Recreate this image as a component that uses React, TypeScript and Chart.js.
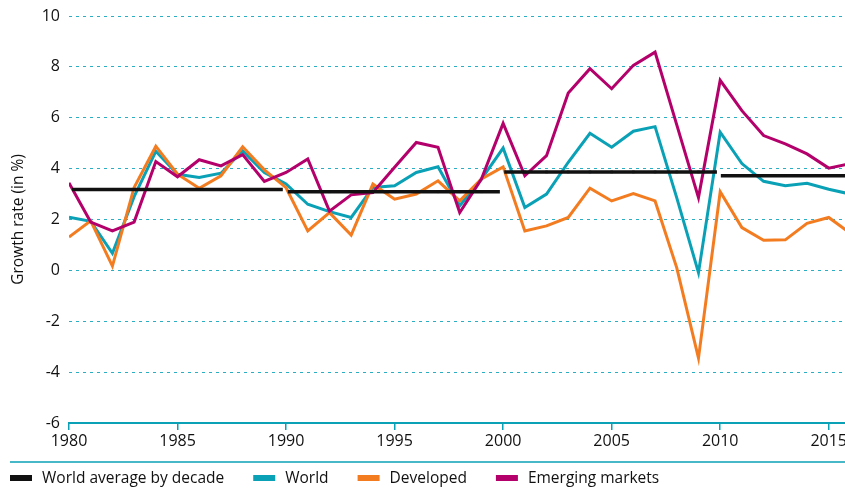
import React, { useEffect, useRef } from "react";
import { Chart, registerables } from "chart.js";

Chart.register(...registerables);

const years = [
  1980, 1981, 1982, 1983, 1984, 1985, 1986, 1987, 1988, 1989,
  1990, 1991, 1992, 1993, 1994, 1995, 1996, 1997, 1998, 1999,
  2000, 2001, 2002, 2003, 2004, 2005, 2006, 2007, 2008, 2009,
  2010, 2011, 2012, 2013, 2014, 2015, 2016,
];

const world = [
  2.09, 1.93, 0.67, 2.9, 4.68, 3.78, 3.65, 3.82, 4.7, 3.85,
  3.4, 2.6, 2.31, 2.08, 3.26, 3.33, 3.85, 4.07, 2.54, 3.59,
  4.81, 2.47, 3.0, 4.25, 5.39, 4.84, 5.47, 5.65, 2.85, -0.09,
  5.43, 4.2, 3.5, 3.33, 3.42, 3.19, 3.0,
];

const developed = [
  1.31, 1.95, 0.17, 3.26, 4.88, 3.78, 3.23, 3.72, 4.86, 3.95,
  3.25, 1.55, 2.27, 1.39, 3.39, 2.8, 3.0, 3.52, 2.73, 3.59,
  4.07, 1.55, 1.75, 2.08, 3.23, 2.73, 3.02, 2.73, 0.1, -3.45,
  3.09, 1.68, 1.18, 1.2, 1.85, 2.08, 1.45,
];

const emerging = [
  3.44, 1.9, 1.55, 1.9, 4.28, 3.68, 4.35, 4.11, 4.55, 3.5,
  3.85, 4.38, 2.33, 2.97, 3.06, 4.05, 5.03, 4.84, 2.27, 3.59,
  5.78, 3.72, 4.51, 6.97, 7.93, 7.14, 8.06, 8.58, 5.72, 2.86,
  7.47, 6.28, 5.3, 4.97, 4.58, 4.02, 4.2,
];

const decadeStarts = [1980.14, 1990.08, 2000.05, 2010.03];
const decadeEnds = [1989.85, 1999.85, 2009.85, 2016];
const decadeAverages = [3.18, 3.09, 3.87, 3.72];

const xTickLabels = [1980, 1985, 1990, 1995, 2000, 2005, 2010, 2015];

const TEAL = "#0AA1B6";
const GRID = "#2AAEC3";
const ORANGE = "#F47C20";
const MAGENTA = "#B3006B";
const BLACK = "#111111";
const TEXT = "#111111";
const FONT = "'Open Sans', 'Noto Sans', sans-serif";

function decadePoints() {
  const pts: { x: number; y: number | null }[] = [];
  decadeStarts.forEach((s, i) => {
    const e = decadeEnds[i];
    pts.push({ x: s, y: decadeAverages[i] });
    years.forEach((yr) => {
      if (yr > s && yr < e) pts.push({ x: yr, y: decadeAverages[i] });
    });
    pts.push({ x: e, y: decadeAverages[i] });
    pts.push({ x: e + 0.01, y: null });
  });
  return pts;
}

const legendPlugin = {
  id: "customLegend",
  afterDraw(chart: any) {
    const ctx = chart.ctx as CanvasRenderingContext2D;
    ctx.save();
    ctx.strokeStyle = TEAL;
    ctx.lineWidth = 1.5;
    ctx.beginPath();
    ctx.moveTo(10, 462);
    ctx.lineTo(chart.width, 462);
    ctx.stroke();
    ctx.font = `15.5px ${FONT}`;
    ctx.textBaseline = "middle";
    let x = 10;
    const cy = 478;
    for (const ds of chart.data.datasets) {
      ctx.fillStyle = ds.borderColor;
      ctx.fillRect(x, cy - 3, 22, 6);
      ctx.fillStyle = TEXT;
      ctx.fillText(ds.label, x + 32, cy + 0.5);
      x += 32 + ctx.measureText(ds.label).width + 29;
    }
    ctx.restore();
  },
};

export default function App() {
  const ref = useRef<HTMLCanvasElement>(null);
  useEffect(() => {
    Chart.defaults.font.family = FONT;
    const toPts = (arr: number[]) => years.map((yr, i) => ({ x: yr, y: arr[i] }));
    const chart = new Chart(ref.current!, {
      type: "line",
      data: {
        datasets: [
          {
            label: "World average by decade",
            data: decadePoints(),
            borderColor: BLACK,
            backgroundColor: BLACK,
            borderWidth: 3.5,
            pointStyle: "rect",
            pointRadius: (c: any) => (Number.isInteger(c.raw?.x) ? 1.8 : 0),
            pointBorderWidth: 0,
            spanGaps: false,
            order: 0,
          },
          {
            label: "World",
            data: toPts(world),
            borderColor: TEAL,
            backgroundColor: TEAL,
            borderWidth: 3,
            pointRadius: 0,
            order: 3,
          },
          {
            label: "Developed",
            data: toPts(developed),
            borderColor: ORANGE,
            backgroundColor: ORANGE,
            borderWidth: 3,
            pointRadius: 0,
            order: 2,
          },
          {
            label: "Emerging markets",
            data: toPts(emerging),
            borderColor: MAGENTA,
            backgroundColor: MAGENTA,
            borderWidth: 3,
            pointRadius: 0,
            order: 1,
          },
        ],
      },
      options: {
        animation: false,
        responsive: false,
        devicePixelRatio: 1,
        layout: { padding: { top: 16, bottom: 38, left: 0, right: 0 } },
        plugins: {
          legend: { display: false },
          tooltip: { enabled: false },
        },
        elements: { line: { tension: 0, borderJoinStyle: "miter", borderCapStyle: "butt" } },
        scales: {
          x: {
            type: "linear",
            min: xTickLabels[0],
            max: 2015.75,
            afterFit: (s: any) => {
              s.height = 32;
              s.paddingLeft = 0;
              s.paddingRight = 0;
            },
            afterBuildTicks: (s: any) => {
              s.ticks = xTickLabels.map((v) => ({ value: v }));
            },
            ticks: {
              includeBounds: false,
              maxRotation: 0,
              autoSkip: false,
              padding: 2,
              color: TEXT,
              font: { size: 16 },
              callback: (v: any) => String(v),
            },
            grid: {
              drawOnChartArea: false,
              drawTicks: true,
              tickLength: 7,
              color: TEAL,
              lineWidth: 1.5,
            },
            border: { display: true, color: TEAL, width: 2 },
          },
          y: {
            min: -6,
            max: 10,
            afterFit: (s: any) => {
              s.width = 69;
              s.paddingTop = 0;
              s.paddingBottom = 0;
            },
            ticks: {
              stepSize: 2,
              padding: 9,
              color: TEXT,
              font: { size: 16 },
            },
            grid: {
              drawTicks: false,
              color: GRID,
              lineWidth: 1,
            },
            border: { display: false, dash: [3, 4] },
            title: {
              display: true,
              text: "Growth rate (in %)",
              color: TEXT,
              font: { size: 15.5 },
              padding: { top: 9, bottom: 0 },
            },
          },
        },
      },
      plugins: [legendPlugin],
    } as any);
    return () => chart.destroy();
  }, []);
  return (
    <div style={{ position: "absolute", left: 0, top: 0, width: 845, height: 493, background: "#fff" }}>
      <canvas ref={ref} width={845} height={493} style={{ display: "block", width: 845, height: 493 }} />
    </div>
  );
}
